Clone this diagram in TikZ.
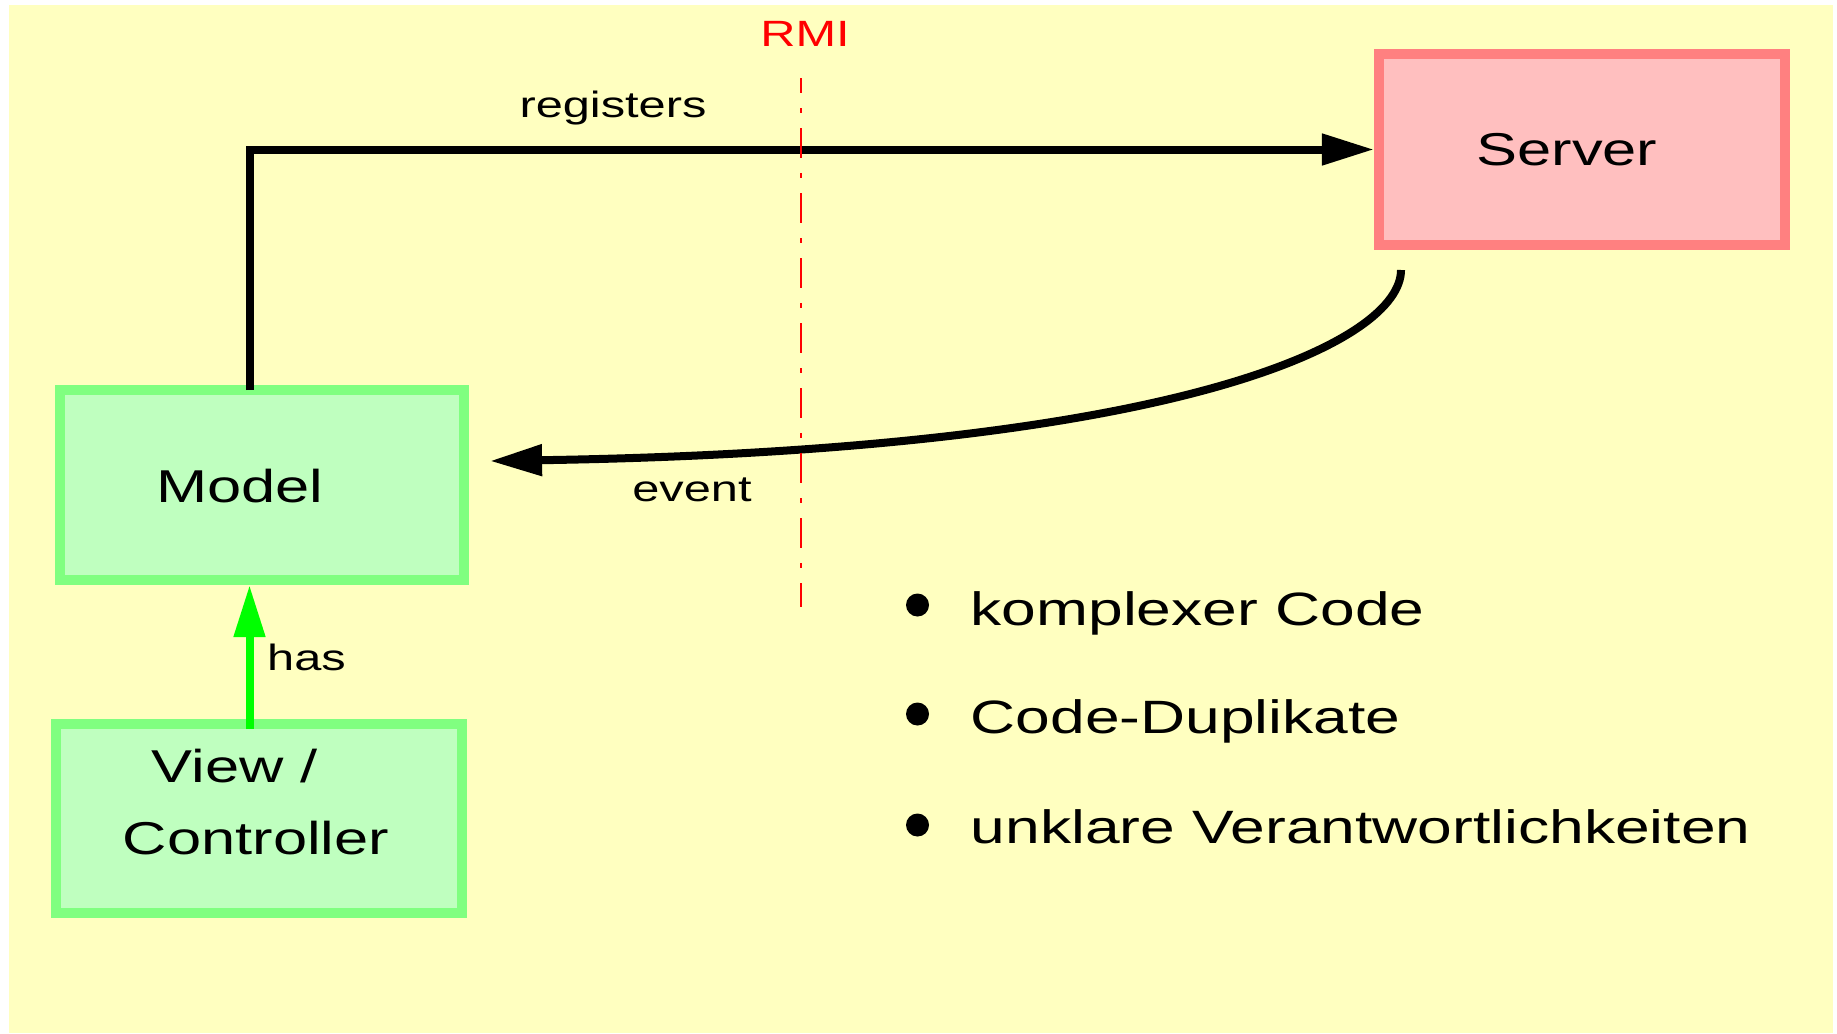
\documentclass[tikz,border=0pt]{standalone}
\usepackage{fontspec}
\setmainfont{Liberation Sans}[FakeStretch=1.333]
\usetikzlibrary{arrows.meta}

\definecolor{slidebg}{HTML}{FFFFC0}
\definecolor{servfill}{HTML}{FFBFBF}
\definecolor{servline}{HTML}{FF8080}
\definecolor{mvcfill}{HTML}{BFFFBF}
\definecolor{mvcline}{HTML}{80FF80}
\definecolor{hasgreen}{HTML}{00FF00}

\tikzset{
  box/.style={draw, line width=0.105cm, inner sep=0pt},
  serverbox/.style={box, draw=servline, fill=servfill},
  mvcbox/.style={box, draw=mvcline, fill=mvcfill},
  bigtext/.style={font=\fontsize{13.1}{16}\selectfont, inner sep=0pt, anchor=base},
  itemtext/.style={font=\fontsize{13.3}{16}\selectfont, inner sep=0pt, anchor=base west},
  smalltext/.style={font=\fontsize{10.4}{12}\selectfont, inner sep=0pt, anchor=base},
  flow/.style={line width=0.08cm, -{Triangle[length=0.52cm,width=0.30cm]}},
  hasflow/.style={flow, draw=hasgreen, fill=hasgreen},
  rmiline/.style={red, line width=0.02cm,
    dash pattern=on 0.3cm off 0.15cm on 0.05cm off 0.15cm, dash phase=0.15cm},
  bulletdot/.style={circle, fill=black, inner sep=0pt, minimum size=0.23cm}
}

\begin{document}
\begin{tikzpicture}[x=0.01cm, y=-0.01cm]
  % page and slide background
  \useasboundingbox[fill=white] (0,0) rectangle (1837,1033);
  \fill[slidebg] (9,5) rectangle (1833,1033);

  % boxes
  \node[serverbox, minimum width=4.055cm, minimum height=1.905cm] (server) at (1582,149.5) {};
  \node[mvcbox, minimum width=4.035cm, minimum height=1.895cm] (model) at (262,485) {};
  \node[mvcbox, minimum width=4.055cm, minimum height=1.885cm] (view) at (259,818.5) {};

  % box captions
  \node[bigtext] (serverlabel) at (1567,165) {Server};
  \node[bigtext] (modellabel) at (240,502) {Model};
  \node[bigtext] (viewlabel) at (235,782) {View /};
  \node[bigtext] (controllerlabel) at (256,854) {Controller};

  % Model registers at the Server
  \coordinate (regstart) at (249.5,390);
  \draw[flow] (regstart) |- (server.west);
  \node[smalltext] (reglabel) at (613,117) {registers};

  % Server sends an event back to the Model
  \coordinate (evstart) at (1401,270);
  \coordinate (evend) at (490,461);
  \draw[flow] (evstart) .. controls (1401,340) and (1190,450) .. (evend);
  \node[smalltext] (eventlabel) at (692,501) {event};

  % View/Controller has a Model
  \coordinate (hasstart) at (249.5,729);
  \draw[hasflow] (hasstart) -- (hasstart |- model.south);
  \node[smalltext] (haslabel) at (306.5,670) {has};

  % RMI boundary
  \coordinate (rmitop) at (801,78);
  \coordinate (rmibottom) at (801,607);
  \draw[rmiline] (rmitop) -- (rmibottom);
  \node[smalltext, text=red] (rmilabel) at (805,46) {RMI};

  % drawbacks
  \node[bulletdot] (dot1) at (917.5,605) {};
  \node[itemtext] (item1) at (970,625) {komplexer Code};
  \node[bulletdot] (dot2) at (917.5,714) {};
  \node[itemtext] (item2) at (970,733) {Code-Duplikate};
  \node[bulletdot] (dot3) at (917.5,825) {};
  \node[itemtext] (item3) at (970,843) {unklare Verantwortlichkeiten};
\end{tikzpicture}
\end{document}
